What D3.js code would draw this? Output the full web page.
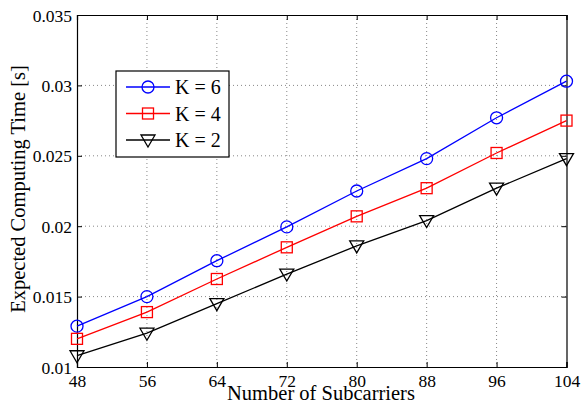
<!DOCTYPE html>
<html><head><meta charset="utf-8">
<script src="https://cdn.jsdelivr.net/npm/d3@7"></script>
<style>body{margin:0;background:#fff}svg{display:block}text{font-family:"Liberation Serif","Times New Roman",serif}</style>
</head><body><svg id="c" width="581" height="404"></svg>
<script>
const subcarriers = [48, 56, 64, 72, 80, 88, 96, 104];
const k6 = [0.0129, 0.0150, 0.01755, 0.01995, 0.0225, 0.0248, 0.0277, 0.0303];
const k4 = [0.0120, 0.0139, 0.01625, 0.0185, 0.0207, 0.0227, 0.0252, 0.0275];
const k2 = [0.0108, 0.0124, 0.0145, 0.0166, 0.0186, 0.0204, 0.0227, 0.0248];
const yTicks = [0.01, 0.015, 0.02, 0.025, 0.03, 0.035];
const yTickLabels = ["0.01", "0.015", "0.02", "0.025", "0.03", "0.035"];
const seriesNames = ["K = 6", "K = 4", "K = 2"];
const series = [
  {name: seriesNames[0], values: k6, color: "#0000ff", marker: "circle"},
  {name: seriesNames[1], values: k4, color: "#ff0000", marker: "square"},
  {name: seriesNames[2], values: k2, color: "#000000", marker: "tri"}
];
const svg = d3.select("#c");
const L = 77, R = 566.5, T = 15, B = 367;
const x = d3.scaleLinear().domain([48, 104]).range([L, R]);
const y = d3.scaleLinear().domain([0.01, 0.035]).range([B, T]);

// grid
const g = svg.append("g");
subcarriers.slice(1, -1).forEach(v => g.append("line").attr("x1", x(v)).attr("x2", x(v)).attr("y1", T).attr("y2", B)
  .attr("stroke", "#888").attr("stroke-width", 1).attr("stroke-dasharray", "1,3"));
yTicks.slice(1, -1).forEach(v => g.append("line").attr("x1", L).attr("x2", R).attr("y1", y(v)).attr("y2", y(v))
  .attr("stroke", "#888").attr("stroke-width", 1).attr("stroke-dasharray", "1,3"));

// axes with inward ticks
const fmtY = d => yTickLabels[yTicks.indexOf(d)];
const axB = svg.append("g").attr("transform", `translate(0,${B})`).call(d3.axisBottom(x).tickValues(subcarriers).tickSize(-5).tickPadding(8).tickFormat(d3.format("d")));
const axT = svg.append("g").attr("transform", `translate(0,${T})`).call(d3.axisTop(x).tickValues(subcarriers).tickSize(-5).tickFormat(""));
const axL = svg.append("g").attr("transform", `translate(${L},0)`).call(d3.axisLeft(y).tickValues(yTicks).tickSize(-5).tickPadding(5).tickFormat(fmtY));
const axR = svg.append("g").attr("transform", `translate(${R},0)`).call(d3.axisRight(y).tickValues(yTicks).tickSize(-5).tickFormat(""));
[axB, axT, axL, axR].forEach(a => {
  a.selectAll("path.domain").attr("stroke", "#000").attr("stroke-width", 1.2);
  a.selectAll(".tick line").attr("stroke", "#000");
  a.selectAll("text").attr("font-size", 17.5).attr("fill", "#000").style("font-family", "Liberation Serif");
});
axL.selectAll("text").attr("dy", "0.35em");

// lines & markers
const line = d3.line().x((d, i) => x(subcarriers[i])).y(d => y(d));
function drawMarker(sel, type, cx, cy, color) {
  if (type === "circle") sel.append("circle").attr("cx", cx).attr("cy", cy).attr("r", 6).attr("fill", "none").attr("stroke", color).attr("stroke-width", 1.3);
  else if (type === "square") sel.append("rect").attr("x", cx - 5.5).attr("y", cy - 5.5).attr("width", 11).attr("height", 11).attr("fill", "none").attr("stroke", color).attr("stroke-width", 1.3);
  else sel.append("path").attr("d", `M${cx - 7},${cy - 5}L${cx + 7},${cy - 5}L${cx},${cy + 7}Z`).attr("fill", "none").attr("stroke", color).attr("stroke-width", 1.3);
}
series.forEach(s => {
  svg.append("path").attr("d", line(s.values)).attr("fill", "none").attr("stroke", s.color).attr("stroke-width", 1.3);
  s.values.forEach((v, i) => drawMarker(svg, s.marker, x(subcarriers[i]), y(v), s.color));
});

// legend
const lg = svg.append("g");
lg.append("rect").attr("x", 116).attr("y", 71).attr("width", 113).attr("height", 86).attr("fill", "#fff").attr("stroke", "#000").attr("stroke-width", 1.2);
series.forEach((s, i) => {
  const ly = 87 + i * 26.5;
  lg.append("line").attr("x1", 126).attr("x2", 170).attr("y1", ly).attr("y2", ly).attr("stroke", s.color).attr("stroke-width", 1.3);
  drawMarker(lg, s.marker, 148, ly, s.color);
  lg.append("text").attr("x", 175).attr("y", ly).attr("dy", "0.35em").attr("font-size", 20).text(s.name);
});

// axis labels
svg.append("text").attr("x", 321).attr("y", 400).attr("text-anchor", "middle").attr("font-size", 20.5).text("Number of Subcarriers");
svg.append("text").attr("transform", "translate(25,189) rotate(-90)").attr("text-anchor", "middle").attr("font-size", 20.5).text("Expected Computing Time [s]");
</script></body></html>
